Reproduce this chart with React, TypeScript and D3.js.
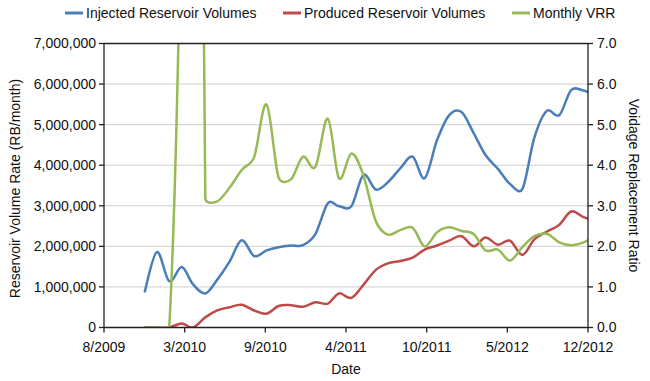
import React from "react";
import * as d3 from "d3";

const months = ["2009-11","2009-12","2010-01","2010-02","2010-03","2010-04","2010-05","2010-06","2010-07","2010-08","2010-09","2010-10","2010-11","2010-12","2011-01","2011-02","2011-03","2011-04","2011-05","2011-06","2011-07","2011-08","2011-09","2011-10","2011-11","2011-12","2012-01","2012-02","2012-03","2012-04","2012-05","2012-06","2012-07","2012-08","2012-09","2012-10","2012-11","2012-12"];

// Reservoir volumes, millions of RB/month
const injected = [0.89,1.86,1.14,1.49,1.07,0.84,1.18,1.63,2.15,1.76,1.90,1.98,2.02,2.03,2.30,3.06,2.99,2.99,3.76,3.40,3.58,3.92,4.21,3.68,4.62,5.23,5.31,4.78,4.25,3.91,3.54,3.41,4.68,5.34,5.23,5.85,5.84,5.72];
const produced = [0,0,0,0.10,0.0,0.25,0.42,0.50,0.56,0.42,0.34,0.53,0.55,0.51,0.62,0.59,0.84,0.73,1.05,1.42,1.58,1.64,1.72,1.92,2.02,2.14,2.25,2.00,2.22,2.04,2.14,1.79,2.17,2.36,2.53,2.86,2.72,2.62];
// Monthly voidage replacement ratio
const vrr = [0,0,0,11.5,38,3.19,3.11,3.45,3.88,4.20,5.50,3.70,3.65,4.21,3.96,5.15,3.68,4.29,3.75,2.62,2.29,2.40,2.46,2.00,2.35,2.47,2.38,2.30,1.90,1.92,1.65,1.98,2.25,2.31,2.10,2.03,2.10,2.25];

const xTickLabels = ["8/2009","3/2010","9/2010","4/2011","10/2011","5/2012","12/2012"];
const leftTicks = [0,1000000,2000000,3000000,4000000,5000000,6000000,7000000];
const rightTicks = [0,1,2,3,4,5,6,7];

const seriesNames = ["Injected Reservoir Volumes","Produced Reservoir Volumes","Monthly VRR"];
const seriesColors = ["#4A7EBB","#BE4B48","#98B954"];

const FONT = "'Liberation Sans', Arial, Helvetica, sans-serif";

function excelCurve(context: any) {
  let pts: number[][] = [];
  return {
    areaStart() {},
    areaEnd() {},
    lineStart() { pts = []; },
    point(x: number, y: number) { pts.push([+x, +y]); },
    lineEnd() {
      const n = pts.length;
      if (!n) return;
      context.moveTo(pts[0][0], pts[0][1]);
      for (let i = 0; i < n - 1; i++) {
        const p0 = pts[Math.max(0, i - 1)], p1 = pts[i], p2 = pts[i + 1], p3 = pts[Math.min(n - 1, i + 2)];
        let t1 = [(p2[0] - p0[0]) / 6, (p2[1] - p0[1]) / 6];
        let t2 = [(p3[0] - p1[0]) / 6, (p3[1] - p1[1]) / 6];
        const seg = Math.hypot(p2[0] - p1[0], p2[1] - p1[1]);
        const lim = 0.5 * seg;
        const l1 = Math.hypot(t1[0], t1[1]);
        if (l1 > lim && l1 > 0) t1 = [t1[0] * lim / l1, t1[1] * lim / l1];
        const l2 = Math.hypot(t2[0], t2[1]);
        if (l2 > lim && l2 > 0) t2 = [t2[0] * lim / l2, t2[1] * lim / l2];
        context.bezierCurveTo(p1[0] + t1[0], p1[1] + t1[1], p2[0] - t2[0], p2[1] - t2[1], p2[0], p2[1]);
      }
    },
  };
}

export default function App() {
  const W = 650, H = 381;
  const left = 104, right = 588, top = 43.5, bottom = 327.5;
  const parse = d3.timeParse("%Y-%m");
  const dates = months.map((m) => parse(m) as Date);
  const d0 = new Date(2009, 6, 22), d1 = new Date(2012, 10, 12);
  const x = d3.scaleTime().domain([d0, d1]).range([left, right]);
  const yL = d3.scaleLinear().domain([0, 7000000]).range([bottom, top]);
  const yR = d3.scaleLinear().domain([0, 7]).range([bottom, top]);
  const xTicks = d3.range(7).map((i) => new Date(+d0 + (i * (+d1 - +d0)) / 6));
  const fmtL = d3.format(",");
  const fmtR = d3.format(".1f");

  const lineL = d3.line<number>().x((_, i) => x(dates[i])).y((v) => yL(v * 1000000)).curve(excelCurve as any);
  const lineR = d3.line<number>().x((_, i) => x(dates[i])).y((v) => yR(v)).curve(excelCurve as any);

  const legendX = [65, 283, 512];

  return (
    <svg width={W} height={H} style={{ position: "absolute", left: 0, top: 0, background: "#fff" }} fontFamily={FONT}>
      <defs>
        <clipPath id="plot">
          <rect x={left} y={top} width={right - left} height={bottom - top} />
        </clipPath>
      </defs>
      <rect width={W} height={H} fill="#fff" />
      {/* gridlines */}
      {leftTicks.slice(1, -1).map((t) => (
        <line key={t} x1={left} x2={right} y1={yL(t)} y2={yL(t)} stroke="#cfcfcf" strokeWidth={1} />
      ))}
      {/* series */}
      <g clipPath="url(#plot)" fill="none" strokeWidth={2.5} strokeLinejoin="round" strokeLinecap="round">
        <path d={lineL(injected) || ""} stroke={seriesColors[0]} />
        <path d={lineL(produced) || ""} stroke={seriesColors[1]} />
        <path d={lineR(vrr) || ""} stroke={seriesColors[2]} />
      </g>
      {/* frame */}
      <g stroke="#222" strokeWidth={1.3} fill="none">
        <line x1={left} x2={right} y1={top} y2={top} />
        <line x1={left} x2={right} y1={bottom} y2={bottom} />
        <line x1={left} x2={left} y1={top} y2={bottom} />
        <line x1={right} x2={right} y1={top} y2={bottom} />
        {leftTicks.map((t) => (
          <line key={"lt" + t} x1={left - 5} x2={left} y1={yL(t)} y2={yL(t)} />
        ))}
        {rightTicks.map((t) => (
          <line key={"rt" + t} x1={right} x2={right + 5} y1={yR(t)} y2={yR(t)} />
        ))}
        {xTicks.map((t, i) => (
          <line key={"xt" + i} x1={x(t)} x2={x(t)} y1={bottom} y2={bottom + 5} />
        ))}
      </g>
      {/* tick labels */}
      <g fontSize={14} fill="#111">
        {leftTicks.map((t) => (
          <text key={"ll" + t} x={left - 8} y={yL(t)} dy="0.35em" textAnchor="end">{fmtL(t)}</text>
        ))}
        {rightTicks.map((t) => (
          <text key={"rl" + t} x={right + 9} y={yR(t)} dy="0.35em" textAnchor="start">{fmtR(t)}</text>
        ))}
        {xTicks.map((t, i) => (
          <text key={"xl" + i} x={x(t)} y={352} textAnchor="middle">{xTickLabels[i]}</text>
        ))}
        <text x={(left + right) / 2} y={374} textAnchor="middle">Date</text>
        <text transform={`translate(20,${(top + bottom) / 2 + 3}) rotate(-90)`} textAnchor="middle">Reservoir Volume Rate (RB/month)</text>
        <text transform={`translate(629,${(top + bottom) / 2}) rotate(90)`} textAnchor="middle">Voidage Replacement Ratio</text>
      </g>
      {/* legend */}
      <g fontSize={14} fill="#111">
        {seriesNames.map((s, i) => (
          <g key={s}>
            <line x1={legendX[i]} x2={legendX[i] + 18} y1={13} y2={13} stroke={seriesColors[i]} strokeWidth={3} />
            <text x={legendX[i] + 21} y={18}>{s}</text>
          </g>
        ))}
      </g>
    </svg>
  );
}
